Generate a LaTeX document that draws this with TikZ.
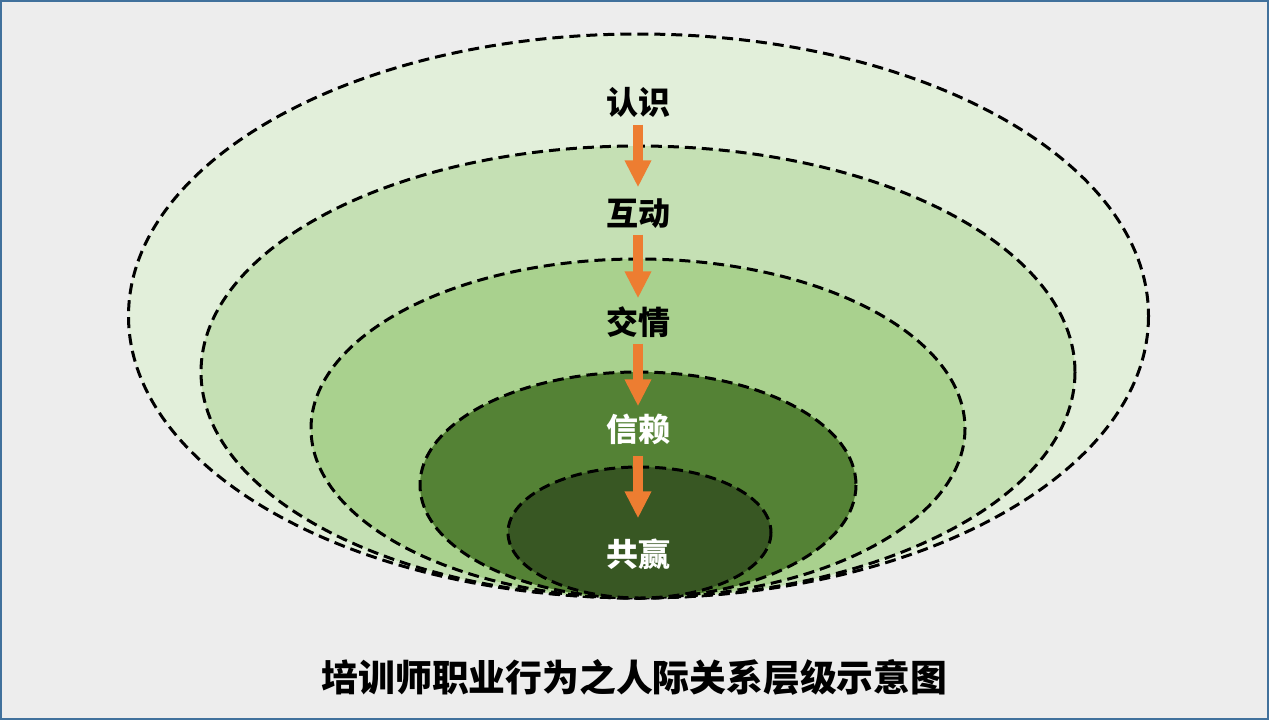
\documentclass[tikz,border=0pt]{standalone}
\usepackage{fontspec}
\newfontfamily\cjk{Noto Sans CJK SC}
\usetikzlibrary{arrows.meta}
\definecolor{bgc}{HTML}{EDEDED}
\definecolor{framec}{HTML}{41719C}
\definecolor{gA}{HTML}{E2EFDA}
\definecolor{gB}{HTML}{C5E0B4}
\definecolor{gC}{HTML}{A9D18E}
\definecolor{gD}{HTML}{548235}
\definecolor{gE}{HTML}{385723}
\definecolor{orangec}{HTML}{ED7D31}
\tikzset{
  ring/.style={draw=black, line width=3pt, dash pattern=on 11pt off 6pt},
  lbl/.style={font=\cjk\bfseries\fontsize{32pt}{32pt}\selectfont, inner sep=0pt, text height=25pt, text depth=6pt},
  flow/.style={draw=orangec, line width=10pt, -{Triangle[width=25pt,length=27pt]}},
}
\begin{document}
\begin{tikzpicture}[x=1pt,y=-1pt]
\useasboundingbox (0,0) rectangle (1269,720);
\fill[bgc] (0,0) rectangle (1269,720);
\draw[framec, line width=2pt] (1,1) rectangle (1268,719);
% rings
\filldraw[ring, fill=gA] (638.5,316) ellipse [x radius=510, y radius=282];
\filldraw[ring, fill=gB] (638,372) ellipse [x radius=437, y radius=226];
\filldraw[ring, fill=gC] (638,428.5) ellipse [x radius=327, y radius=169.5];
\filldraw[ring, fill=gD] (638,485) ellipse [x radius=218, y radius=113];
\filldraw[ring, fill=gE] (639.5,532.5) ellipse [x radius=131.5, y radius=65.5];
% labels
\node[lbl] (l1) at (638,105) {认识};
\node[lbl] (l2) at (638,216) {互动};
\node[lbl] (l3) at (638,325) {交情};
\node[lbl, text=white] (l4) at (638,432) {信赖};
\node[lbl, text=white] (l5) at (638,557) {共赢};
% arrows
\draw[flow, shorten <=4pt, shorten >=13pt] (l1) -- (l2);
\draw[flow, shorten <=3pt, shorten >=11pt] (l2) -- (l3);
\draw[flow, shorten <=3pt, shorten >=10pt] (l3) -- (l4);
\draw[flow, shorten <=8pt, shorten >=23pt] (l4) -- (l5);
% title
\node[font=\cjk\bfseries\fontsize{36.8pt}{36.8pt}\selectfont, inner sep=0pt] (title) at (634.5,677) {培训师职业行为之人际关系层级示意图};
\end{tikzpicture}
\end{document}
